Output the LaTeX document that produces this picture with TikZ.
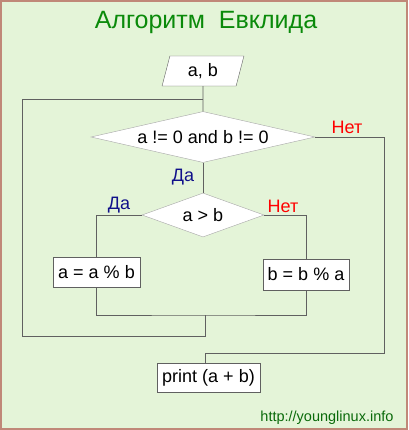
\documentclass[tikz,border=0pt]{standalone}
\usepackage{fontspec}
\setmainfont{Liberation Sans}
\usetikzlibrary{positioning,shapes.geometric}
\definecolor{bgcol}{HTML}{E4F4D8}
\definecolor{framecol}{HTML}{C08878}
\definecolor{titlecol}{HTML}{0A8A0A}
\definecolor{urlcol}{HTML}{0A6A0A}
\definecolor{yescol}{HTML}{10108A}
\definecolor{linecol}{HTML}{606060}

\begin{document}
\begin{tikzpicture}[x=1pt, y=-1pt,
    every node/.style={font=\fontsize{18}{20}\selectfont},
    io/.style={trapezium, trapezium left angle=77, trapezium right angle=103,
               trapezium stretches=true, draw=linecol, fill=white, inner sep=0pt},
    cond/.style={diamond, draw=gray!70, fill=white, inner sep=0pt},
    op/.style={rectangle, draw=linecol, fill=white, inner sep=0pt},
    yes/.style={text=yescol},
    no/.style={text=red},
    flow/.style={draw=linecol, line width=0.9pt}]
    % Background and frame
    \fill[bgcol] (0,0) rectangle (408,430);
    \draw[framecol, line width=2pt] (1,1) rectangle (407,429);
    \useasboundingbox (0,0) rectangle (408,430);

    \node[text=titlecol, font=\fontsize{25}{28}\selectfont] (title) at (206,22) {Алгоритм~~Евклида};

    % Blocks
    \node[io, minimum width=82, minimum height=30] (ab) at (203,71) {a, b};
    \node[cond, aspect=4.4, minimum width=224, minimum height=51] (c1) at (203,137) {a != 0 and b != 0};
    \node[cond, aspect=2.8, minimum width=122, minimum height=44] (c2) at (203,215) {a > b};
    \node[op, minimum width=87, minimum height=30] (s1) at (96.5,272) {a = a \% b};
    \node[op, minimum width=86, minimum height=31] (s2) at (306,274.5) {b = b \% a};
    \node[op, minimum width=103, minimum height=29] (out) at (208.5,377.5) {print (a + b)};

    % Helper points of the loop
    \coordinate (loop) at (203,99);
    \coordinate (merge) at (205.5,315);
    \coordinate (back) at (22.5,336);
    \coordinate (exit) at (384,353);

    % Connectors
    \draw[flow] (ab) -- (c1);
    \draw[flow] (c1) -- (c2);
    \draw[flow] (c2.west) -| (s1);
    \draw[flow] (c2.east) -| (s2);
    \draw[flow] (s1) |- (merge) -| (s2);
    \draw[flow] (merge) |- (back) |- (loop);
    \draw[flow] (c1.east) -| (exit) -| (out.north -| merge);

    % Branch labels
    \node[yes] (yes1) at (183,177) {Да};
    \node[yes] (yes2) at (119,205) {Да};
    \node[no] (no1) at (347,127) {Нет};
    \node[no] (no2) at (283,206) {Нет};

    \node[text=urlcol, anchor=east, font=\fontsize{14.5}{16}\selectfont] (url) at (397,418) {http://younglinux.info};
\end{tikzpicture}
\end{document}
